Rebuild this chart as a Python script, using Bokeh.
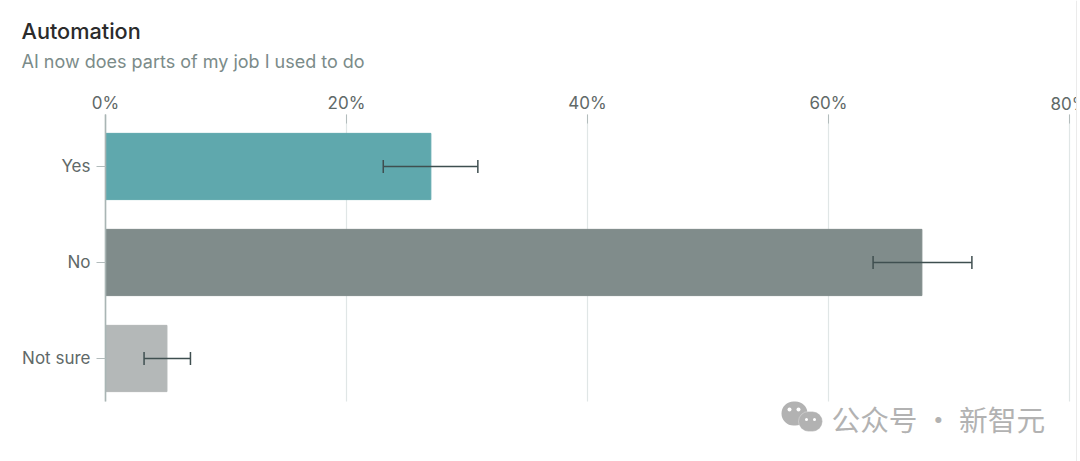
from bokeh.plotting import figure
from bokeh.models import ColumnDataSource, Whisker, TeeHead, Label, FixedTicker, Range1d, LinearAxis, BoxAnnotation
from bokeh.embed import file_html
from bokeh.resources import INLINE
import math

categories = ["Yes", "No", "Not sure"]
share = [27.0, 67.75, 5.1]
err_low = [23.05, 63.7, 3.2]
err_high = [30.9, 71.9, 7.05]
bar_colors = ["#5fa8ad", "#808c8b", "#b4b8b8"]
x_ticks = [0, 20, 40, 60, 80]

ypos = list(range(len(categories)))
source = ColumnDataSource(data=dict(y=ypos, share=share, low=err_low, high=err_high, color=bar_colors))

# annotations get clipped to the frame, so the frame fills the whole canvas
# and the axes are pinned inside it with fixed_location
y_top, y_bottom = -0.542, 2.448

p = figure(width=1077, height=461, output_backend="svg", toolbar_location=None,
           x_range=Range1d(-8.714, 80.664), y_range=Range1d(3.073, -1.729),
           x_axis_location=None, y_axis_location=None, min_border=0)
p.outline_line_color = None
p.grid.visible = False

p.segment(x0=x_ticks, x1=x_ticks, y0=y_top, y1=y_bottom, line_color="#e0e6e6", line_width=1.2)

top = LinearAxis(ticker=FixedTicker(ticks=x_ticks), fixed_location=y_top, bounds=(0, 80))
top.major_label_overrides = {t: f"{t}%" if t != x_ticks[-1] else " " for t in x_ticks}
top.axis_line_color = None
top.major_tick_in = 9
top.major_tick_out = 0
top.major_tick_line_color = "#b3bcbc"
top.minor_tick_line_color = None
top.major_label_standoff = 1
top.major_label_text_font = "Inter"
top.major_label_text_font_size = "17px"
top.major_label_text_color = "#5f6968"
p.add_layout(top, "above")

p.add_layout(Label(x=x_ticks[-1], y=103, x_units="data", y_units="canvas", text=f"{x_ticks[-1]}%",
                   text_font="Inter", text_font_size="17px", text_color="#5f6968",
                   text_align="center", text_baseline="middle"))

ax = LinearAxis(ticker=FixedTicker(ticks=ypos), fixed_location=0, bounds=(y_top, y_bottom))
ax.major_label_overrides = dict(zip(ypos, categories))
ax.axis_line_color = "#a9b5b4"
ax.axis_line_width = 1.6
ax.major_tick_in = 0
ax.major_tick_out = 9
ax.major_tick_line_color = "#b3bcbc"
ax.minor_tick_line_color = None
ax.major_label_standoff = 6
ax.major_label_text_font = "Inter"
ax.major_label_text_font_size = "17px"
ax.major_label_text_color = "#5f6968"
p.add_layout(ax, "left")

p.hbar(y="y", right="share", left=0, height=0.69, color="color", source=source)

err = Whisker(source=source, base="y", lower="low", upper="high", dimension="width",
              line_color="#3f4f50", line_width=1.5, level="overlay",
              lower_head=TeeHead(size=13, line_color="#3f4f50", line_width=1.5),
              upper_head=TeeHead(size=13, line_color="#3f4f50", line_width=1.5))
p.add_layout(err)

p.add_layout(Label(x=21, y=30, x_units="canvas", y_units="canvas", text="Automation",
                   text_font="Inter Medium", text_font_size="21.7px",
                   text_color="#2b2b2b", text_baseline="middle"))
p.add_layout(Label(x=21, y=61, x_units="canvas", y_units="canvas", text="AI now does parts of my job I used to do",
                   text_font="Inter", text_font_size="18px",
                   text_color="#7b8b89", text_baseline="middle"))

# watermark
p.add_layout(Label(x=831, y=418, x_units="canvas", y_units="canvas", text="公众号 · 新智元",
                   text_font="Noto Sans CJK SC", text_font_size="28.7px",
                   text_color="#b2b2b2", text_baseline="middle"))


def blob(cx, cy, rx, ry, color, edge=None):
    p.add_layout(BoxAnnotation(left=cx - rx, right=cx + rx, top=cy - ry, bottom=cy + ry,
                               left_units="canvas", right_units="canvas", top_units="canvas", bottom_units="canvas",
                               fill_color=color, fill_alpha=1, line_color=edge, border_radius=math.ceil(min(rx, ry)),
                               editable=False))


blob(794, 413, 13, 12, "#b2b2b2")
blob(810, 421, 12, 10, "#b2b2b2", "#ffffff")
blob(789, 409, 2, 2, "#ffffff")
blob(798, 409, 2, 2, "#ffffff")
blob(806, 419, 1.5, 1.5, "#ffffff")
blob(814, 419, 1.5, 1.5, "#ffffff")

# thin edge of the screenshot on the right
p.add_layout(BoxAnnotation(left=1075.5, right=1077, top=0, bottom=461,
                           left_units="canvas", right_units="canvas", top_units="canvas", bottom_units="canvas",
                           fill_color="#ebebeb", fill_alpha=1, line_color=None))

open("out.html", "w").write(file_html(p, INLINE))
